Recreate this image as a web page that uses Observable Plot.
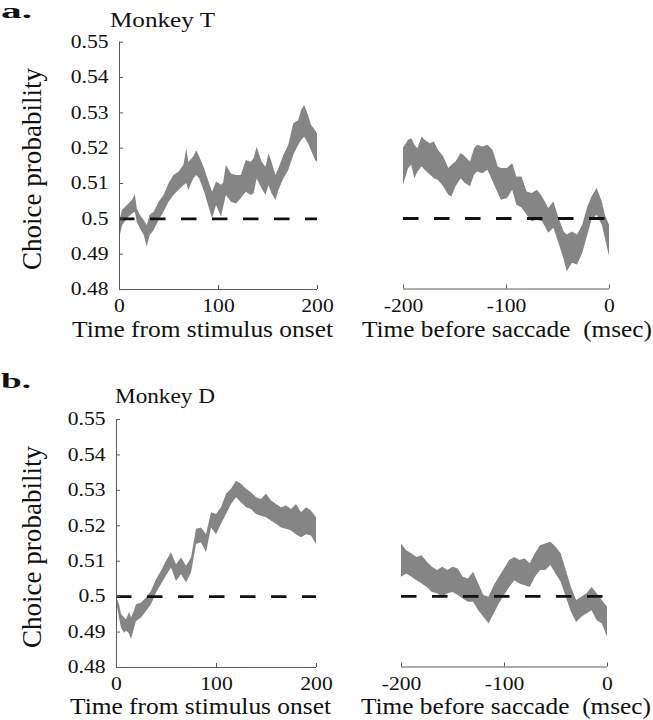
<!DOCTYPE html>
<html><head><meta charset="utf-8">
<script src="https://cdn.jsdelivr.net/npm/d3@7"></script>
<script src="https://cdn.jsdelivr.net/npm/@observablehq/plot@0.6"></script>
<style>
body{margin:0;background:#fff;}
#fig{position:relative;width:653px;height:720px;overflow:hidden;background:#fff;font-family:"Liberation Serif", Tinos, "Times New Roman", Times, serif;}
#fig svg{position:absolute;left:0;top:0;}
</style></head><body><div id="fig"></div>
<script>
// ---- tick values ----
const yTicks = [0.48, 0.49, 0.5, 0.51, 0.52, 0.53, 0.54, 0.55];
const xTicksOnset = [0, 100, 200];
const xTicksSaccade = [-200, -100, 0];

// ---- Monkey T, time from stimulus onset ----
const tT_on = [0,3,8,13,16,18,21,25,28,31,35,40,45,50,55,60,65,68,70,75,78,81,86,91,94,98,103,105,108,113,118,123,128,133,136,139,144,148,151,154,158,161,166,171,176,181,184,187,191,194,198,200];
const loT_on = [.4943,.4980,.5000,.5014,.5019,.4990,.4972,.4953,.4920,.4953,.4967,.4995,.5019,.5047,.5066,.5080,.5094,.5100,.5080,.5113,.5123,.5113,.5075,.5028,.5000,.5038,.5005,.5030,.5066,.5047,.5042,.5057,.5075,.5066,.5071,.5113,.5085,.5066,.5094,.5071,.5052,.5080,.5113,.5137,.5179,.5208,.5222,.5231,.5212,.5193,.5165,.5160];
const hiT_on = [.4990,.5024,.5038,.5052,.5068,.5028,.5010,.4995,.4981,.5010,.5019,.5047,.5066,.5099,.5123,.5132,.5151,.5198,.5160,.5175,.5193,.5175,.5142,.5099,.5075,.5104,.5095,.5100,.5151,.5127,.5123,.5123,.5165,.5160,.5170,.5203,.5160,.5146,.5184,.5160,.5123,.5142,.5179,.5208,.5269,.5278,.5307,.5321,.5292,.5264,.5250,.5240];

// ---- Monkey T, time before saccade ----
const tT_sac = [-200,-195,-192,-189,-186,-182,-179,-174,-170,-166,-161,-156,-153,-149,-144,-140,-135,-131,-128,-123,-118,-113,-108,-105,-99,-94,-90,-85,-80,-75,-70,-65,-59,-54,-49,-44,-41,-36,-31,-26,-21,-17,-12,-7,-4,0];
const loT_sac = [.5094,.5142,.5151,.5113,.5132,.5146,.5137,.5123,.5113,.5108,.5090,.5066,.5061,.5090,.5113,.5099,.5090,.5123,.5132,.5127,.5137,.5104,.5071,.5052,.5057,.5080,.5038,.5030,.5009,.4991,.4995,.4991,.4958,.4972,.4929,.4882,.4849,.4873,.4868,.4901,.4953,.4995,.5009,.4981,.4943,.4892];
const hiT_sac = [.5200,.5222,.5226,.5208,.5198,.5231,.5222,.5212,.5217,.5193,.5175,.5142,.5151,.5160,.5184,.5175,.5160,.5198,.5208,.5203,.5208,.5193,.5146,.5142,.5142,.5156,.5118,.5118,.5075,.5071,.5080,.5061,.5028,.5047,.5000,.4962,.4953,.4962,.4953,.4981,.5033,.5061,.5085,.5047,.5009,.4981];

// ---- Monkey D, time from stimulus onset ----
const tD_on = [0,3,5,8,10,13,15,18,20,25,30,35,40,45,50,55,60,65,70,75,80,85,90,95,100,105,110,115,120,125,130,135,140,145,150,155,160,165,170,175,180,185,190,195,200];
const loD_on = [.4987,.4940,.4911,.4897,.4902,.4895,.4878,.4910,.4930,.4940,.4958,.4977,.5010,.5034,.5058,.5081,.5043,.5062,.5039,.5067,.5147,.5152,.5124,.5194,.5175,.5204,.5232,.5260,.5279,.5265,.5251,.5246,.5232,.5227,.5223,.5213,.5204,.5194,.5190,.5185,.5175,.5166,.5175,.5171,.5147];
const hiD_on = [.5000,.4977,.4950,.4940,.4935,.4955,.4940,.4960,.4977,.4982,.4996,.5015,.5048,.5072,.5100,.5124,.5090,.5109,.5086,.5109,.5190,.5194,.5175,.5237,.5232,.5251,.5289,.5303,.5326,.5317,.5303,.5293,.5279,.5274,.5289,.5270,.5260,.5251,.5256,.5246,.5260,.5237,.5251,.5242,.5223];

// ---- Monkey D, time before saccade ----
const tD_sac = [-200,-195,-190,-185,-180,-175,-170,-165,-160,-155,-150,-145,-140,-135,-130,-125,-120,-115,-110,-105,-100,-95,-90,-85,-80,-75,-70,-65,-60,-55,-50,-45,-40,-35,-30,-25,-20,-15,-10,-5,0];
const loD_sac = [.5054,.5063,.5054,.5044,.5035,.5025,.5011,.5007,.4997,.5007,.5011,.5002,.4992,.4983,.4983,.4959,.4941,.4922,.4950,.4978,.5002,.5025,.5044,.5035,.5030,.5025,.5054,.5073,.5073,.5087,.5063,.5040,.4997,.4955,.4926,.4941,.4950,.4959,.4931,.4922,.4884];
const hiD_sac = [.5148,.5129,.5120,.5110,.5115,.5096,.5082,.5073,.5082,.5073,.5082,.5077,.5054,.5049,.5068,.5035,.5002,.4997,.5030,.5054,.5077,.5101,.5110,.5101,.5106,.5092,.5120,.5143,.5148,.5153,.5139,.5120,.5073,.5025,.4988,.4997,.5007,.5025,.5007,.4988,.4969];

// ---- styles ----
const BAND = "#858585";
const AXIS = "#5a5a5a";
const TEXT = "#111";
const FONT = "\"Liberation Serif\", Tinos, \"Times New Roman\", Times, serif";
const W = 653, H = 720;
const fig = document.getElementById("fig");

function panel({t, lo, hi, xDomain, xTicks, yAxis, mTop, mBottom, mLeft, mRight}) {
  const data = t.map((d, i) => ({t: d, lo: lo[i], hi: hi[i]}));
  const marks = [
    Plot.areaY(data, {x: "t", y1: "lo", y2: "hi", fill: BAND}),
    Plot.ruleY([0.5], {stroke: TEXT, strokeWidth: 2.8, strokeDasharray: "15.5,15.5"}),
    Plot.ruleY([yTicks[0]], {stroke: AXIS}),
    Plot.axisX({ticks: xTicks, tickSize: -4, tickPadding: 14, stroke: AXIS, fill: TEXT, label: null, tickFormat: d => String(d)})
  ];
  if (yAxis) {
    marks.push(Plot.ruleX([xDomain[0]], {stroke: AXIS}));
    marks.push(Plot.axisY({ticks: yTicks, tickSize: -4, tickPadding: 15, stroke: AXIS, fill: TEXT, label: null,
      tickFormat: d => String(+d.toFixed(2))}));
  }
  const svg = Plot.plot({
    width: W, height: H,
    marginTop: mTop, marginBottom: mBottom, marginLeft: mLeft, marginRight: mRight,
    x: {domain: xDomain},
    y: {domain: [yTicks[0], yTicks[yTicks.length - 1]], axis: yAxis ? undefined : null},
    style: {fontFamily: FONT, fontSize: "18px", background: "transparent", overflow: "visible", maxWidth: "none", color: TEXT},
    marks
  });
  fig.appendChild(svg);
  // widen tick labels to match the reference's proportions
  svg.querySelectorAll('g[aria-label$="tick label"] text').forEach(el => {
    const L = el.getComputedTextLength();
    el.setAttribute("textLength", (L * 1.2).toFixed(1));
    el.setAttribute("lengthAdjust", "spacingAndGlyphs");
  });
}

panel({t: tT_on, lo: loT_on, hi: hiT_on, xDomain: [0, 200], xTicks: xTicksOnset, yAxis: true,
  mTop: 41.7, mBottom: H - 289, mLeft: 119, mRight: W - 317});
panel({t: tT_sac, lo: loT_sac, hi: hiT_sac, xDomain: [-200, 0], xTicks: xTicksSaccade, yAxis: false,
  mTop: 41.7, mBottom: H - 288.5, mLeft: 403, mRight: W - 609});
panel({t: tD_on, lo: loD_on, hi: hiD_on, xDomain: [0, 200], xTicks: xTicksOnset, yAxis: true,
  mTop: 419, mBottom: H - 667, mLeft: 116, mRight: W - 316});
panel({t: tD_sac, lo: loD_sac, hi: hiD_sac, xDomain: [-200, 0], xTicks: xTicksSaccade, yAxis: false,
  mTop: 419, mBottom: H - 666.5, mLeft: 401, mRight: W - 607});

// ---- text labels (titles, panel letters, axis titles) ----
const overlay = d3.select(fig).append("svg")
  .attr("width", W).attr("height", H)
  .style("font-family", FONT).style("overflow", "visible");
const labels = [
  {text: "a.", x: 1, y: 18, size: 20, weight: "bold", len: 31},
  {text: "Monkey T", x: 110, y: 26.7, size: 21, len: 105},
  {text: "Choice probability", x: 41, y: 169, size: 27, len: 202, rotate: true},
  {text: "Time from stimulus onset", x: 72, y: 336.7, size: 23, len: 261},
  {text: "Time before saccade  (msec)", x: 362, y: 336.7, size: 23, len: 290},
  {text: "b.", x: 1, y: 388, size: 21, weight: "bold", len: 30},
  {text: "Monkey D", x: 115, y: 403.3, size: 21, len: 100},
  {text: "Choice probability", x: 41, y: 547, size: 27, len: 202, rotate: true},
  {text: "Time from stimulus onset", x: 70, y: 714, size: 23, len: 261},
  {text: "Time before saccade  (msec)", x: 361, y: 714, size: 23, len: 290}
];
labels.forEach(l => {
  const t = overlay.append("text")
    .attr("fill", TEXT)
    .attr("font-size", l.size)
    .attr("font-weight", l.weight || "normal")
    .style("white-space", "pre")
    .attr("textLength", l.len)
    .attr("lengthAdjust", l.adjust || "spacingAndGlyphs")
    .text(l.text);
  if (l.rotate) {
    t.attr("text-anchor", "middle").attr("transform", `translate(${l.x},${l.y}) rotate(-90)`);
  } else {
    t.attr("x", l.x).attr("y", l.y);
  }
});
</script>
</body></html>
